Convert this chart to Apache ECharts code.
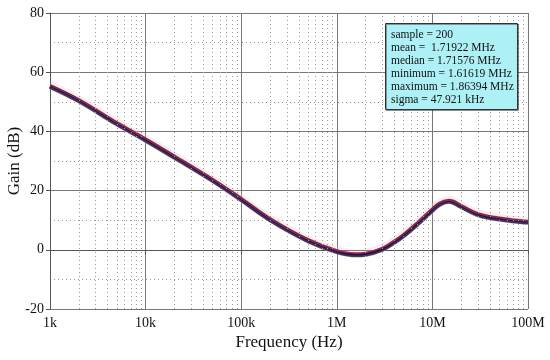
<!DOCTYPE html>
<html>
<head>
<meta charset="utf-8">
<script src="https://cdn.jsdelivr.net/npm/echarts@6/dist/echarts.min.js"></script>
<style>html,body{margin:0;padding:0;background:#fff}#c{width:550px;height:360px}</style>
</head>
<body>
<div id="c"></div>
<script>
// Frequency points (Hz)
const freqHz = [1e3, 2e3, 5e3, 1e4, 2e4, 5e4, 1e5, 2e5, 5e5, 1e6, 1.6e6, 2e6, 3e6, 4e6, 5e6, 7e6, 1e7, 1.2e7, 1.5e7, 2e7, 3e7, 5e7, 1e8];
// Gain (dB): typical run, and upper / lower runs of the Monte Carlo bundle
const gainTypical = [55.2, 50.4, 42.6, 37.1, 31.3, 23.5, 17.0, 10.2, 3.1, -0.6, -1.7, -1.5, 0.2, 2.6, 4.8, 8.8, 13.4, 15.5, 16.4, 14.6, 11.9, 10.4, 9.3];
const gainHigh    = [55.6, 50.8, 43.0, 37.5, 31.7, 23.9, 17.4, 10.6, 3.5, -0.2, -1.2, -1.0, 0.7, 3.1, 5.3, 9.3, 13.9, 15.9, 16.8, 15.0, 12.3, 10.8, 9.7];
const gainLow     = [54.8, 50.0, 42.2, 36.7, 30.9, 23.1, 16.6, 9.8, 2.7, -1.0, -2.1, -1.9, -0.3, 2.1, 4.3, 8.3, 12.9, 15.1, 16.0, 14.2, 11.5, 10.0, 8.9];
// Axis tick labels
const xTickValues = [1e3, 1e4, 1e5, 1e6, 1e7, 1e8];
const xTickLabels = ['1k', '10k', '100k', '1M', '10M', '100M'];
// Statistics box text
const statsLines = ['sample = 200', 'mean =  1.71922 MHz', 'median = 1.71576 MHz', 'minimum = 1.61619 MHz', 'maximum = 1.86394 MHz', 'sigma = 47.921 kHz'];

const pairs = g => freqHz.map((f, i) => [f, g[i]]);
const minorGrid = [];
for (let d = 1e3; d < 1e8; d *= 10) for (let m = 2; m <= 9; m++) minorGrid.push({xAxis: d * m});

const font = 'Liberation Serif';
const chart = echarts.init(document.getElementById('c'));
chart.setOption({
  animation: false,
  grid: {left: 50, right: 22, top: 13, bottom: 51, containLabel: false, outerBoundsMode: 'none'},
  xAxis: {
    type: 'log', logBase: 10, min: 1e3, max: 1e8,
    name: 'Frequency (Hz)', nameLocation: 'middle', nameGap: 25, nameMoveOverlap: false,
    nameTextStyle: {fontFamily: font, fontSize: 17, color: '#111'},
    axisLine: {show: true, lineStyle: {color: '#555', width: 1}},
    axisTick: {show: true, length: 4, lineStyle: {color: '#555'}},
    axisLabel: {fontFamily: font, fontSize: 14, color: '#111', margin: 7,
      formatter: v => { const i = xTickValues.findIndex(t => Math.abs(t - v) / t < 1e-6); return i >= 0 ? xTickLabels[i] : ''; }},
    splitLine: {show: true, lineStyle: {color: '#777', width: 1}}
  },
  yAxis: {
    type: 'value', min: -20, max: 80, interval: 20,
    name: 'Gain (dB)', nameLocation: 'middle', nameGap: 27, nameMoveOverlap: false,
    nameTextStyle: {fontFamily: font, fontSize: 17, color: '#111'},
    axisLine: {show: true, lineStyle: {color: '#555', width: 1}},
    axisTick: {show: true, length: 4, lineStyle: {color: '#555'}},
    axisLabel: {fontFamily: font, fontSize: 14, color: '#111', margin: 6},
    splitLine: {show: true, lineStyle: {color: '#777', width: 1}},
    minorTick: {show: false, splitNumber: 2},
    minorSplitLine: {show: true, lineStyle: {color: '#999', type: [1, 3], width: 1}}
  },
  series: [
    {type: 'line', data: [], silent: true,
      markLine: {silent: true, symbol: 'none', label: {show: false},
        lineStyle: {color: '#999', type: [1, 3], width: 1}, data: minorGrid}},
    {type: 'line', data: pairs(gainHigh), smooth: 0.4, showSymbol: false, lineStyle: {color: '#f6bfdc', width: 8, opacity: 0.35}},
    {type: 'line', data: pairs(gainTypical), smooth: 0.4, showSymbol: false, lineStyle: {color: '#6e6030', width: 5}},
    {type: 'line', data: pairs(gainTypical), smooth: 0.4, showSymbol: false, lineStyle: {color: '#1d1a1a', width: 3.4}},
    {type: 'line', data: pairs(gainLow), smooth: 0.4, showSymbol: false, lineStyle: {color: '#3a2e9a', width: 1.2}},
    {type: 'line', data: pairs(gainHigh), smooth: 0.4, showSymbol: false, lineStyle: {color: '#b0186e', width: 1.2}}
  ],
  graphic: [
    {type: 'rect', left: 385, top: 23, shape: {width: 132, height: 86},
      style: {fill: '#adf0f5', stroke: '#333', lineWidth: 1, shadowColor: 'rgba(0,0,0,0.35)', shadowOffsetX: 1, shadowOffsetY: 1}, z: 100},
    {type: 'text', left: 391, top: 28, z: 101,
      style: {text: statsLines.join('\n'), fontFamily: font, fontSize: 11.5, lineHeight: 13.1, fill: '#111'}}
  ]
});
</script>
</body>
</html>
